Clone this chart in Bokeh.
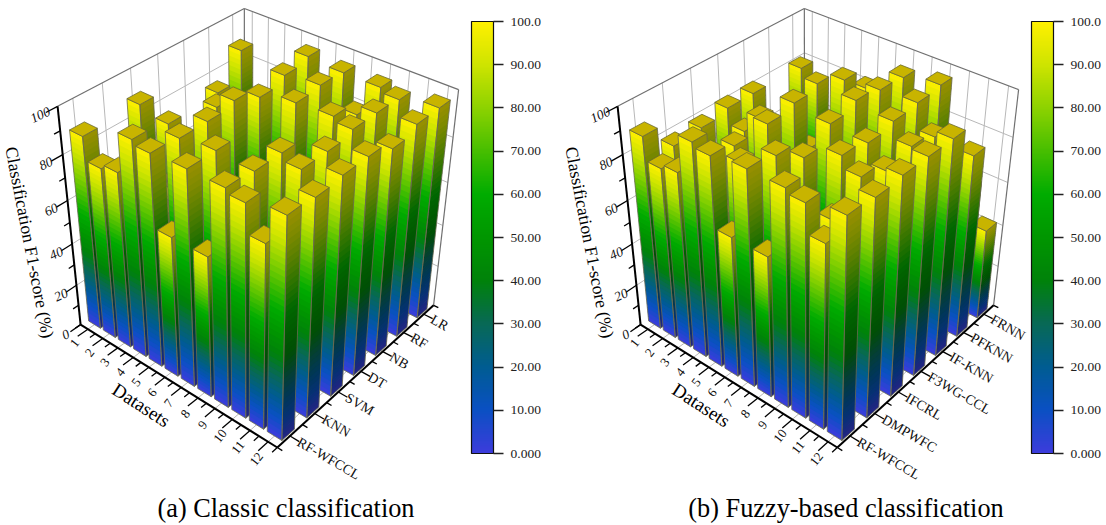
import numpy as np
from bokeh.plotting import figure
from bokeh.embed import file_html
from bokeh.resources import INLINE
from bokeh.models import Range1d, ColumnDataSource, ColorBar, LinearColorMapper, FixedTicker
from bokeh.core.properties import value

DATASETS=[str(i) for i in range(1,13)]
METHODS_A=["RF-WFCCL","KNN","SVM","DT","NB","RF","LR"]
METHODS_B=["RF-WFCCL","DMPWFC","IFCRL","F3WG-CCL","IF-KNN","PFKNN","FRNN"]
VALUES_A=[
[89,79,81,98,96,65,97,65,97,95,83,98],
[58,58,58,59,95,60,97,61,96,62,62,97],
[89,57,58,58,95,59,59,60,96,93,61,98],
[74,57,57,91,97,58,59,59,60,93,61,98],
[56,56,56,74,92,50,96,58,97,95,60,94],
[75,68,56,72,95,57,97,58,91,95,59,97],
[88,55,55,55,97,56,96,57,96,94,58,97],
]
VALUES_B=[
[89,79,81,97,95,65,97,65,97,95,83,98],
[78,58,58,59,85,60,95,61,61,80,62,97],
[79,57,78,58,94,59,87,60,95,90,61,98],
[81,74,83,57,96,58,94,59,93,85,61,98],
[81,56,56,57,57,58,97,58,95,88,60,98],
[55,55,56,56,93,57,95,58,96,85,59,84],
[80,76,55,55,83,56,94,57,97,58,58,43],
]
CMAP_LEVELS=[0,10,20,30,40,50,60,70,80,90,100]
CMAP_RGB=[(60,60,220),(10,80,195),(0,92,145),(8,105,85),(0,130,10),(0,150,0),(0,172,0),(70,190,0),(140,210,0),(205,228,0),(255,240,0)]
CB_TICKS=[0,10,20,30,40,50,60,70,80,90,100]
CB_LABELS=["0.000","10.00","20.00","30.00","40.00","50.00","60.00","70.00","80.00","90.00","100.0"]
Z_TICKS=[0,20,40,60,80,100]
TITLES=["(a) Classic classification","(b) Fuzzy-based classification"]
W,H=1106,525
SERIF=value("Liberation Serif")
CAL=[((0,0,0),(80,324)),((1,0,0),(277,447)),((1,1,0),(433,305)),((0,0,1),(57,106)),((1,1,1),(458,89)),((0,1,1),(244,8))]
A=[]
for (X,Y,Z),(u,v) in CAL:
    A.append([X,Y,Z,1,0,0,0,0,-u*X,-u*Y,-u*Z,-u])
    A.append([0,0,0,0,X,Y,Z,1,-v*X,-v*Y,-v*Z,-v])
P=np.linalg.svd(np.array(A,float))[2][-1].reshape(3,4)
def proj(x,y,z,off=0):
    h=P@np.array([(x-.5)/12,(y-.5)/7,z/100,1.0])
    return h[0]/h[2]+off,h[1]/h[2]
def cmap(t):
    return tuple(float(np.interp(t*100,CMAP_LEVELS,[c[k] for c in CMAP_RGB])) for k in range(3))
def hexc(c,f=1.0):
    return "#%02x%02x%02x"%tuple(int(round(min(255,v*f))) for v in c)
p=figure(width=W,height=H,x_range=Range1d(0,W),y_range=Range1d(H,0),toolbar_location=None,output_backend="svg",min_border=0,x_axis_type=None,y_axis_type=None,outline_line_color=None)
p.grid.visible=False
DX,DY=0.8,0.5
NSEG=40
def panel(vals,methods,off,title):
    gx,gy=[],[]
    def seg(a,b):
        q=[proj(*a,off),proj(*b,off)]
        gx.append([q[0][0],q[1][0]]); gy.append([q[0][1],q[1][1]])
    for z in (20,40,60,80):
        seg((.5,.5,z),(.5,7.5,z)); seg((.5,7.5,z),(12.5,7.5,z))
    for j in range(1,8):
        seg((.5,j,0),(.5,j,100)); seg((.5,j,0),(12.5,j,0))
    for i in range(1,13):
        seg((i,7.5,0),(i,7.5,100)); seg((i,.5,0),(i,7.5,0))
    p.multi_line(gx,gy,line_color="#b8b8b8",line_width=1)
    bx,by=[],[]
    def bseg(a,b):
        q=[proj(*a,off),proj(*b,off)]
        bx.append([q[0][0],q[1][0]]); by.append([q[0][1],q[1][1]])
    bseg((.5,.5,100),(.5,7.5,100)); bseg((.5,7.5,100),(12.5,7.5,100)); bseg((12.5,7.5,0),(12.5,7.5,100)); bseg((.5,7.5,0),(.5,7.5,100))
    p.multi_line(bx,by,line_color="#707070",line_width=1.2)
    xs,ys,fc,lc,fa,la,lw=[],[],[],[],[],[],[]
    def poly(c3,f,l,a,al,w):
        q=[proj(*c,off) for c in c3]
        xs.append([v[0] for v in q]); ys.append([v[1] for v in q]); fc.append(f); lc.append(l); fa.append(a); la.append(al); lw.append(w)
    for j in range(7,0,-1):
        for i in range(1,13):
            v=vals[j-1][i-1]
            x0,x1,y0,y1=i-DX/2,i+DX/2,j-DY/2,j+DY/2
            for s in range(NSEG):
                z0,z1=v*s/NSEG,min(v,v*(s+1)/NSEG+.5)
                c=cmap((s+.5)/NSEG)
                poly([(x0,y0,z0),(x1,y0,z0),(x1,y0,z1),(x0,y0,z1)],hexc(c),hexc(c),1,0,.5)
                poly([(x1,y0,z0),(x1,y1,z0),(x1,y1,z1),(x1,y0,z1)],hexc(c,.6),hexc(c,.6),1,0,.5)
            poly([(x0,y0,0),(x1,y0,0),(x1,y0,v),(x0,y0,v)],"#000000","#6a6a50",0,1,.8)
            poly([(x1,y0,0),(x1,y1,0),(x1,y1,v),(x1,y0,v)],"#000000","#6a6a50",0,1,.8)
            poly([(x0,y0,v),(x1,y0,v),(x1,y1,v),(x0,y1,v)],"#c8b400","#6a6a30",1,1,.8)
    src=ColumnDataSource(dict(xs=xs,ys=ys,fc=fc,lc=lc,fa=fa,la=la,lw=lw))
    p.patches("xs","ys",source=src,fill_color="fc",line_color="lc",fill_alpha="fa",line_alpha="la",line_width="lw")
    ax,ay,tx,ty=[],[],[],[]
    def aseg(a,b,X,Y):
        q=[proj(*a,off),proj(*b,off)]
        X.append([q[0][0],q[1][0]]); Y.append([q[0][1],q[1][1]])
    aseg((.5,.5,0),(.5,.5,100),ax,ay); aseg((.5,.5,0),(12.5,.5,0),ax,ay); aseg((12.5,.5,0),(12.5,7.5,0),ax,ay)
    for z in range(0,101,10):
        aseg((.5,.5,z),(.5,.5-(.38 if z%20==0 else .2),z),tx,ty)
    for i in np.arange(.5,12.51,.5):
        aseg((i,.5,0),(i,.5-(.38 if float(i).is_integer() else .2),0),tx,ty)
    for j in np.arange(.5,7.51,.5):
        aseg((12.5,j,0),(12.5+(.5 if float(j).is_integer() else .27),j,0),tx,ty)
    p.multi_line(ax,ay,line_color="#000000",line_width=2)
    p.multi_line(tx,ty,line_color="#000000",line_width=1.3)
    q=[proj(.5,-.05,z,off) for z in Z_TICKS]
    p.text([c[0] for c in q],[c[1] for c in q],text=[str(z) for z in Z_TICKS],angle=25,angle_units="deg",text_align="center",text_baseline="middle",text_font=SERIF,text_font_size="13.5px",text_font_style="italic",text_color="#111111")
    q=[proj(i+1.25,-.12,0,off) for i in range(12)]
    p.text([c[0] for c in q],[c[1] for c in q],text=DATASETS,angle=52,angle_units="deg",text_align="center",text_baseline="middle",text_font=SERIF,text_font_size="13px",text_color="#111111")
    q=[proj(12.95,j+1,0,off) for j in range(7)]
    p.text([c[0] for c in q],[c[1] for c in q],text=methods,angle=-30,angle_units="deg",text_align="left",text_baseline="middle",text_font=SERIF,text_font_size="14px",text_color="#111111")
    c=proj(6.4,-.62,0,off)
    p.text([c[0]],[c[1]],text=["Datasets"],angle=-33,angle_units="deg",text_align="center",text_baseline="middle",text_font=SERIF,text_font_size="19px",text_color="#000000")
    c=proj(.5,-.85,52,off)
    p.text([c[0]],[c[1]],text=["Classification F1-score (%)"],angle=-79,angle_units="deg",text_align="center",text_baseline="middle",text_font=SERIF,text_font_size="17.7px",text_color="#000000")
    p.text([285.5+off],[508],text=[title],text_align="center",text_baseline="middle",text_font=SERIF,text_font_size="26.3px",text_color="#000000")
    pal=[hexc(cmap(k/255)) for k in range(256)]
    cb=ColorBar(color_mapper=LinearColorMapper(palette=pal,low=0,high=100),ticker=FixedTicker(ticks=CB_TICKS),
        major_label_overrides=dict(zip(CB_TICKS,CB_LABELS)),major_label_text_font="Liberation Serif",major_label_text_font_size="13.5px",major_label_text_color="#222222",
        major_tick_in=0,major_tick_out=10,major_tick_line_color="#222222",major_tick_line_width=1.5,minor_tick_line_color=None,
        bar_line_color="#111111",bar_line_width=1.2,border_line_color=None,background_fill_alpha=0,padding=0,label_standoff=7,
        width=22,height=432,location=(471+off,H-21-432))
    p.add_layout(cb)
panel(VALUES_A,METHODS_A,0,TITLES[0])
panel(VALUES_B,METHODS_B,560,TITLES[1])
open("out.html","w").write(file_html(p,INLINE))
